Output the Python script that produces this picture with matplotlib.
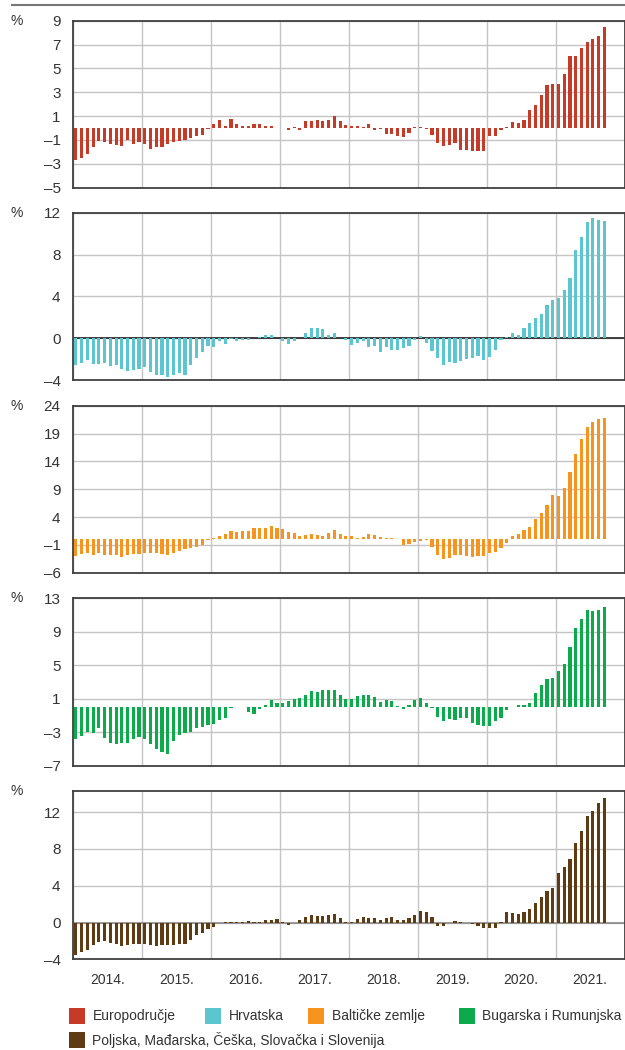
import matplotlib
matplotlib.use("Agg")
import matplotlib.pyplot as plt
from matplotlib.patches import Rectangle
from matplotlib.lines import Line2D
import numpy as np

plt.rcParams['font.family'] = ['Liberation Sans Narrow', 'Liberation Sans', 'DejaVu Sans']

# -------------------------
# Data (monthly, Jan 2014 - Sep 2021, %)
# -------------------------
years = ["2014.", "2015.", "2016.", "2017.", "2018.", "2019.", "2020.", "2021."]

euro_area = [
    -2.7, -2.5, -2.2, -1.6, -1.1, -1.2, -1.3, -1.4, -1.5, -1.0, -1.3, -1.2,
    -1.3, -1.75, -1.6, -1.6, -1.3, -1.2, -1.1, -1.0, -0.85, -0.7, -0.55, -0.1,
    0.35, 0.7, 0.2, 0.75, 0.3, 0.15, 0.15, 0.3, 0.35, 0.15, 0.15, 0.02,
    0.03, -0.2, 0.1, -0.15, 0.6, 0.6, 0.7, 0.6, 0.65, 1.0, 0.6, 0.25,
    0.15, 0.15, 0.05, 0.35, -0.15, -0.1, -0.5, -0.5, -0.7, -0.75, -0.4, 0.1,
    0.1, -0.1, -0.6, -1.25, -1.5, -1.4, -1.25, -1.85, -1.85, -1.9, -1.9, -1.9,
    -0.7, -0.7, -0.2, 0.05, 0.5, 0.4, 0.65, 1.5, 1.9, 2.8, 3.6, 3.7,
    3.7, 4.5, 6.0, 6.0, 6.7, 7.2, 7.5, 7.7, 8.5,
]

croatia = [
    -2.55, -2.4, -2.1, -2.45, -2.45, -2.35, -2.65, -2.55, -2.95, -3.1, -3.0, -2.95,
    -2.8, -3.25, -3.5, -3.5, -3.7, -3.55, -3.3, -3.5, -2.55, -1.85, -1.3, -0.75,
    -0.8, -0.3, -0.55, -0.05, -0.3, -0.2, -0.2, 0.05, 0.15, 0.3, 0.3, 0.02,
    -0.3, -0.6, -0.3, 0.02, 0.45, 0.95, 0.95, 0.85, 0.35, 0.45, 0.05, -0.2,
    -0.65, -0.5, -0.3, -0.85, -0.75, -1.3, -0.85, -1.1, -1.1, -0.95, -0.75, -0.2,
    0.2, -0.45, -1.2, -1.9, -2.55, -2.25, -2.4, -2.15, -2.0, -1.9, -1.7, -2.05,
    -1.8, -1.15, -0.2, 0.1, 0.45, 0.3, 1.0, 1.45, 1.95, 2.35, 3.15, 3.65,
    3.8, 4.6, 5.75, 8.45, 9.7, 11.1, 11.45, 11.3, 11.2,
]

baltics = [
    -2.95, -2.7, -2.4, -2.8, -2.5, -2.8, -2.8, -2.8, -3.1, -2.8, -2.7, -2.7,
    -2.5, -2.5, -2.5, -2.6, -2.8, -2.5, -2.1, -1.8, -1.5, -1.3, -1.0, -0.2,
    0.2, 0.6, 0.9, 1.5, 1.4, 1.5, 1.5, 2.0, 2.0, 2.1, 2.4, 2.0,
    1.9, 1.4, 1.1, 0.6, 0.8, 1.0, 0.8, 0.65, 1.1, 1.7, 1.0, 0.6,
    0.55, 0.3, 0.5, 0.9, 0.8, 0.35, 0.25, 0.25, 0.03, -1.0, -0.9, -0.55,
    -0.35, -0.15, -1.3, -2.8, -3.6, -3.4, -2.8, -2.8, -3.0, -3.1, -2.95, -2.95,
    -2.4, -2.2, -1.5, -0.6, 0.6, 0.9, 1.6, 2.15, 3.6, 4.8, 6.2, 8.0,
    7.8, 9.2, 12.1, 15.4, 18.0, 20.2, 21.0, 21.7, 21.8,
]

bg_ro = [
    -3.85, -3.5, -3.0, -3.1, -2.45, -3.75, -4.3, -4.35, -4.3, -4.25, -3.8, -3.6,
    -3.85, -4.45, -5.0, -5.35, -5.55, -4.0, -3.35, -3.05, -3.0, -2.45, -2.35, -2.1,
    -2.0, -1.55, -1.35, -0.05, 0.05, 0.05, -0.6, -0.85, -0.2, 0.3, 0.85, 0.55,
    0.5, 0.7, 1.0, 1.05, 1.45, 1.9, 1.85, 2.1, 2.1, 2.1, 1.4, 0.95,
    1.0, 1.3, 1.5, 1.4, 1.15, 0.65, 0.9, 0.75, 0.1, -0.2, 0.3, 0.9,
    1.1, 0.45, -0.05, -1.15, -1.6, -1.45, -1.5, -1.3, -1.3, -1.9, -2.15, -2.2,
    -2.2, -1.65, -1.3, -0.35, 0.05, 0.25, 0.25, 0.45, 1.7, 2.7, 3.3, 3.5,
    4.35, 5.1, 7.15, 9.4, 10.5, 11.55, 11.5, 11.65, 12.0,
]

cee5 = [
    -3.5, -3.25, -2.95, -2.4, -2.1, -2.05, -2.2, -2.3, -2.55, -2.45, -2.3, -2.3,
    -2.3, -2.45, -2.6, -2.4, -2.45, -2.4, -2.35, -2.3, -1.95, -1.35, -1.1, -0.75,
    -0.45, -0.05, 0.02, 0.02, 0.02, 0.05, 0.2, 0.05, 0.1, 0.25, 0.25, 0.4,
    0.05, -0.25, -0.1, 0.3, 0.55, 0.85, 0.75, 0.75, 0.85, 0.95, 0.45, 0.05,
    0.05, 0.4, 0.6, 0.45, 0.45, 0.3, 0.45, 0.55, 0.25, 0.25, 0.45, 0.85,
    1.25, 1.1, 0.55, -0.4, -0.4, -0.05, 0.15, 0.02, -0.05, -0.2, -0.4, -0.6,
    -0.65, -0.55, 0.05, 1.1, 1.05, 0.9, 1.15, 1.45, 2.1, 2.75, 3.45, 3.75,
    5.4, 6.0, 6.95, 8.6, 10.0, 11.55, 12.15, 12.95, 13.5,
]

series_names = ["Europodručje", "Hrvatska", "Baltičke zemlje",
                "Bugarska i Rumunjska", "Poljska, Mađarska, Češka, Slovačka i Slovenija"]
series = [euro_area, croatia, baltics, bg_ro, cee5]
colors = ["#c63a28", "#5bc5d0", "#f7941d", "#0bab4c", "#5e3b12"]

y_limits = [(-5, 9), (-4, 12), (-6, 24), (-7, 13), (-4, 14.3)]
y_ticks = [
    [-5, -3, -1, 1, 3, 5, 7, 9],
    [-4, 0, 4, 8, 12],
    [-6, -1, 4, 9, 14, 19, 24],
    [-7, -3, 1, 5, 9, 13],
    [-4, 0, 4, 8, 12],
]
zero_line = [None, "#222222", None, None, "#8a8a8a"]

# -------------------------
# Plot
# -------------------------
W, H = 625, 1050
fig = plt.figure(figsize=(W / 100, H / 100), dpi=100)

# panel top/bottom in pixels
panel_px = [(20.7, 187.7), (212.7, 380.0), (405.7, 572.7), (598.3, 765.7), (791.0, 959.3)]
left_px, right_px = 73, 624.5

n_months = 12 * len(years)
spine_col = "#404040"
grid_col = "#c4c4c4"
text_col = "#333333"

axes = []
for i, (vals, col) in enumerate(zip(series, colors)):
    top, bot = panel_px[i]
    ax = fig.add_axes([left_px / W, 1 - bot / H, (right_px - left_px) / W, (bot - top) / H])
    x = np.arange(len(vals)) + 0.5
    ax.bar(x, vals, width=0.55, color=col, zorder=3, linewidth=0)

    ax.set_xlim(0, n_months)
    ax.set_ylim(*y_limits[i])
    ax.set_yticks(y_ticks[i])
    ax.set_yticklabels([str(t).replace("-", "\u2013") for t in y_ticks[i]])
    ax.set_xticks(np.arange(0, n_months + 1, 12))
    ax.set_xticklabels([])
    ax.grid(True, color=grid_col, linewidth=1.0, zorder=0)
    ax.tick_params(axis="both", length=0)
    ax.tick_params(axis="y", pad=9, labelsize=11, labelcolor=text_col)
    for s in ax.spines.values():
        s.set_color(spine_col)
        s.set_linewidth(1.3)
    if zero_line[i]:
        ax.axhline(0, color=zero_line[i], linewidth=1.2, zorder=2)
    ax.text(-0.1015, 1.0, "%", transform=ax.transAxes, ha="center", va="center",
            fontsize=10, color=text_col)
    axes.append(ax)

# year labels under the last panel
ax = axes[-1]
ax.set_xticks(np.arange(6, n_months, 12), minor=True)
ax.set_xticklabels(years, minor=True)
ax.tick_params(axis="x", which="minor", length=0, pad=10, labelsize=10, labelcolor=text_col)

# top rule
fig.add_artist(Line2D([12 / W, 1.0], [1 - 4.7 / H, 1 - 4.7 / H], color="#777777", linewidth=1.5))

# legend
leg_pos = [(69, 1016), (205, 1016), (308, 1016), (459, 1016), (69, 1040)]
for (px, py), name, col in zip(leg_pos, series_names, colors):
    fig.add_artist(Rectangle((px / W, 1 - (py + 8) / H), 16 / W, 16 / H,
                             transform=fig.transFigure, color=col, linewidth=0))
    fig.text((px + 23.5) / W, 1 - py / H, name, ha="left", va="center",
             fontsize=10, color=text_col)

plt.savefig("out.png", dpi=100)
